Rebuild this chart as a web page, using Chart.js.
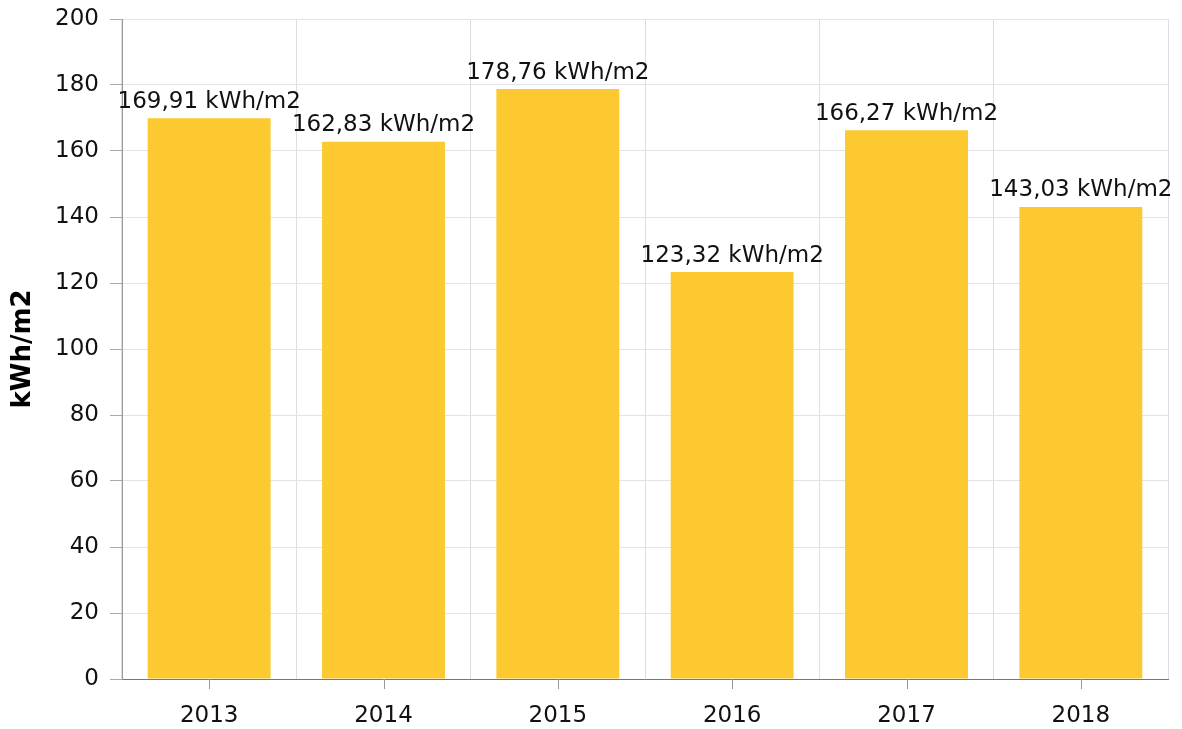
<!DOCTYPE html>
<html>
<head>
<meta charset="utf-8">
<script src="https://cdn.jsdelivr.net/npm/chart.js@4"></script>
<style>
  html, body { margin: 0; padding: 0; background: #fff; }
  #wrap { width: 1182px; height: 729px; }
</style>
</head>
<body>
<div id="wrap"><canvas id="myChart" width="1182" height="729"></canvas></div>
<script>
// data
var years = ["2013", "2014", "2015", "2016", "2017", "2018"];
var values = [169.91, 162.83, 178.76, 123.32, 166.27, 143.03];
var unit = "kWh/m2";

var fontFamily = "'DejaVu Sans', Verdana, sans-serif";

// labels above the bars
var valueLabels = {
  id: "valueLabels",
  afterDatasetsDraw: function (chart) {
    var ctx = chart.ctx;
    var meta = chart.getDatasetMeta(0);
    ctx.save();
    ctx.font = "23px " + fontFamily;
    ctx.fillStyle = "#111";
    ctx.textAlign = "center";
    ctx.textBaseline = "bottom";
    meta.data.forEach(function (bar, i) {
      var txt = values[i].toFixed(2).replace(".", ",") + " " + unit;
      ctx.fillText(txt, bar.x, bar.y - 5);
    });
    ctx.restore();
  }
};

// small tick marks under the x axis, at the category centres
var xTickMarks = {
  id: "xTickMarks",
  afterDraw: function (chart) {
    var ctx = chart.ctx;
    var xs = chart.scales.x;
    ctx.save();
    ctx.strokeStyle = "#999";
    ctx.lineWidth = 1;
    for (var i = 0; i < years.length; i++) {
      var px = Math.round(xs.getPixelForValue(i)) + 0.5;
      ctx.beginPath();
      ctx.moveTo(px, xs.top);
      ctx.lineTo(px, xs.top + 10);
      ctx.stroke();
    }
    ctx.restore();
  }
};

var ctx = document.getElementById("myChart").getContext("2d");
var chart = new Chart(ctx, {
  type: "bar",
  data: {
    labels: years,
    datasets: [
      {
        label: unit,
        data: values,
        backgroundColor: "#fcc930",
        barPercentage: 0.705,
        categoryPercentage: 1.0
      }
    ]
  },
  options: {
    responsive: false,
    animation: false,
    layout: {
      padding: { top: 19, right: 14, left: 8, bottom: 0 }
    },
    plugins: {
      legend: { display: false },
      tooltip: { enabled: false }
    },
    scales: {
      x: {
        grid: {
          offset: true,
          color: "#dedede",
          drawTicks: false
        },
        border: { color: "#777", width: 1 },
        ticks: {
          color: "#111",
          font: { family: fontFamily, size: 23 },
          padding: 23
        },
        afterFit: function (scale) {
          scale.height = 50;
        }
      },
      y: {
        min: 0,
        max: 200,
        ticks: {
          stepSize: 20,
          color: "#111",
          font: { family: fontFamily, size: 23 },
          padding: 11
        },
        grid: {
          color: "#e3e3e3",
          tickColor: "#aaa",
          tickLength: 12
        },
        border: { color: "#999", width: 1 },
        title: {
          display: true,
          text: unit,
          color: "#000",
          font: { family: fontFamily, size: 26, weight: "bold" },
          padding: { top: 0, bottom: 0 }
        },
        afterFit: function (scale) {
          scale.width = 114;
          scale.paddingTop = 0;
          scale.paddingBottom = 0;
        }
      }
    }
  },
  plugins: [valueLabels, xTickMarks]
});
</script>
</body>
</html>
